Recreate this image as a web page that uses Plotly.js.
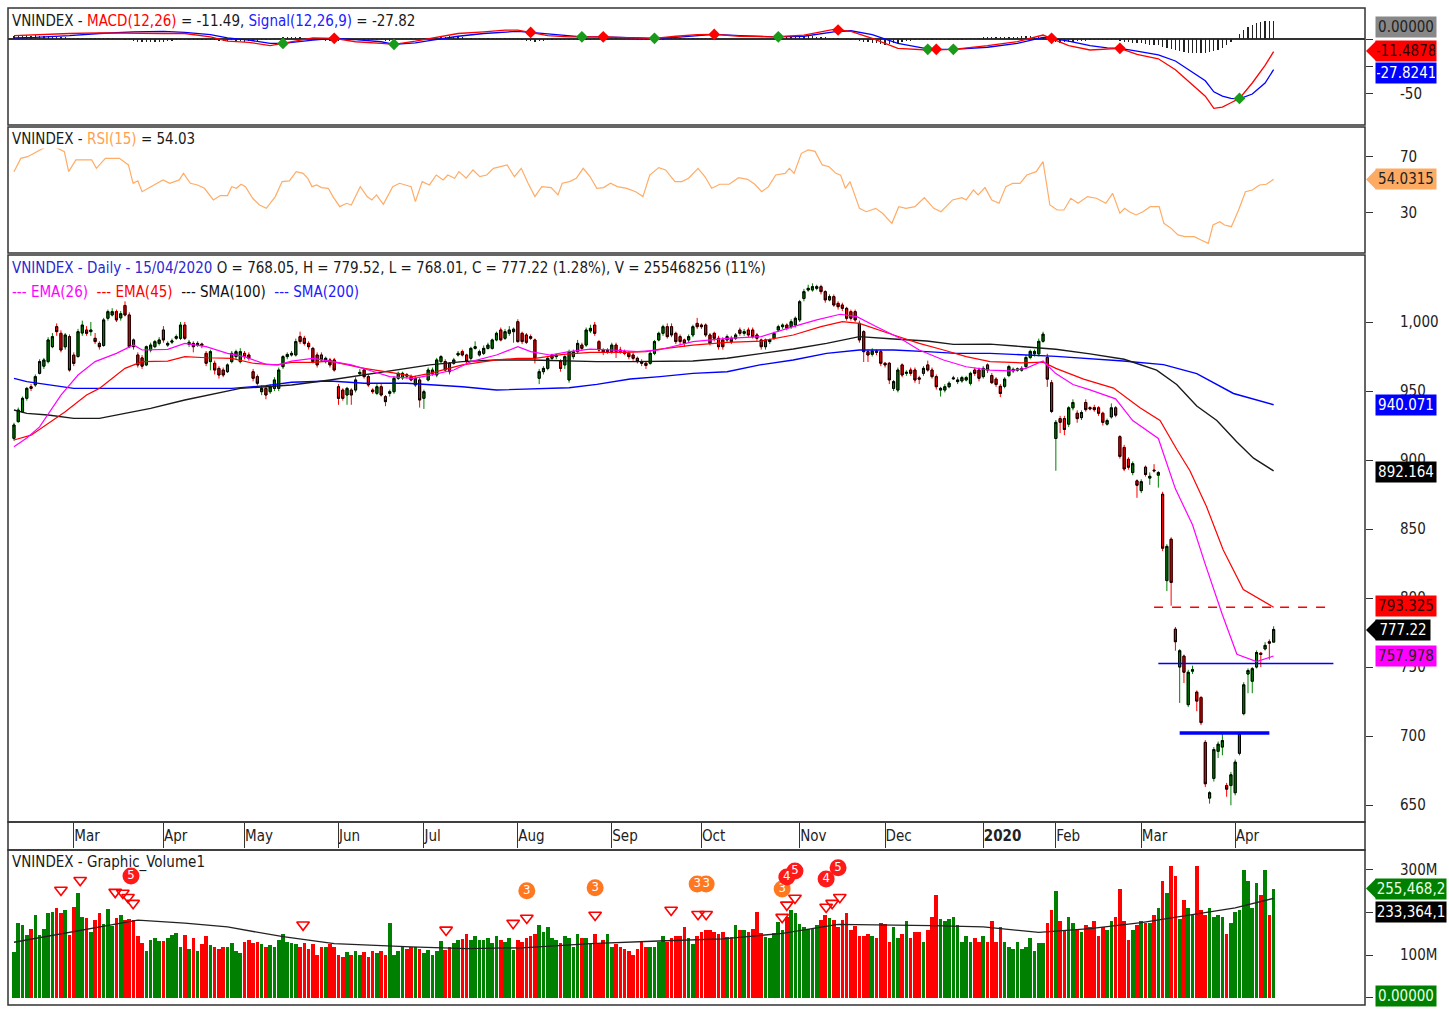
<!DOCTYPE html>
<html><head><meta charset="utf-8">
<script src="https://cdn.plot.ly/plotly-3.0.1.min.js"></script>
<style>html,body{margin:0;padding:0;background:#fff}#chart{width:1449px;height:1009px}</style>
</head><body><div id="chart"></div>
<script>
// ---------------- DATA ----------------
const monthIdx = [14, 35, 54, 76, 96, 118, 140, 161, 184, 204, 227, 244, 264, 286];
const monthLabels = ['Mar','Apr','May','Jun','Jul','Aug','Sep','Oct','Nov','Dec','<b>2020</b>','Feb','Mar','Apr'];

const openP = [
915.7,927.8,935,944.7,953.1,954.4,962.8,968,971.3,982.1,
996.6,991.8,982,989.4,976,975,992,994.2,993,988.2,
984.5,983,1002.7,1005.1,1007.5,1003,1012,1005.1,987,976.1,
974,968.9,979.7,982.1,984.5,994.2,983.3,985.4,988.2,988.2,
997.8,983.8,984.5,983.3,984,977.3,971.3,970.1,966.4,965.2,
964,971.3,974.9,971.3,977.3,976.1,964,960.4,949.5,951.9,
949.5,951.9,951.9,967.6,974.9,976.1,976.1,989.4,988.2,984.5,
980.9,976.1,976.1,971.3,972.5,972.5,953.1,950.7,947.1,950.7,
950.7,962.5,965.2,960.4,950.7,948.3,953.1,945.9,948.3,949.5,
959.2,959.5,961.8,960.4,954.4,958,944.7,958,962.8,961.6,
971.3,971.3,970.1,970.1,976.1,978.5,976.1,973.7,980.9,976.1,
977.3,980.9,980.9,987,994.2,988.2,991.8,993,1000.2,991.8,
990.6,989.4,987,959.2,964,966.4,973.7,974.9,971.3,968.9,
958,974.9,978.5,983.3,983.3,993.5,997.8,985.8,979.7,978.5,
978.5,983.3,979.7,978.5,977.3,976.1,973.7,971.3,970.1,970.1,
977.3,987,991.8,996.6,996.6,991.8,989.4,987,987,990.6,
999,997.8,997.8,990.6,991.8,988.2,987,987,988.2,988.2,
994.2,991.8,994.2,994.2,990.6,987,982.1,985.8,988.2,994.2,
996.6,997.8,996.6,997.8,1001.5,1017,1023.2,1023.2,1024.4,1025.6,
1022,1016,1018.4,1013.5,1012.3,1009.9,1007.5,1007.5,999,993,
978.5,976.6,979,978.5,970.1,970.1,951.9,950.7,968.9,962.8,
965.2,965.2,959.5,962.8,968.9,965.2,960.4,950.7,950.7,953.1,
958.8,956.8,957.3,958,955.6,965.2,965.2,960.4,968.9,961.2,
958.6,953.4,953.4,961.2,964.6,965.1,965.1,967.7,974.3,976.9,
976.9,986,974.3,956,915.6,930,930,926,937.8,933.9,
930.7,941.7,938,938,937.8,933.9,926,931.2,937.8,916.9,
909.1,900.5,890.9,884.9,877.8,894.8,886.9,892.7,889,875.2,
812.6,842.6,777.4,750,757.9,722.7,747,731.8,727.9,695.4,
655,669.3,688.9,692,664.1,664.1,658.9,687.5,716.2,744.9,
739.7,750,760,763.1,768.3,768.05];

const highP = [
927,938,946,953,955,962,973,974,989,992,
999,994,992,991,978,995,1001,997,1000,992,
986,1003,1009,1010,1009,1008,1015,1007,988,978,
976,983,985,987,989,997,986,988,991,1000,
1000,987,986,986,985,979,980,972,968,967,
970,979,980,981,979,978,966,962,954,953,
955,960,967,976,978,979,988,993,990,986,
982,978,978,975,974,974,955,952,953,952,
960,966,967,962,952,955,955,947,951,961,
964,964,963,962,961,960,951,967,967,974,
976,973,971,974,979,980,977,982,986,980,
983,985,988,993,996,995,997,996,1002,993,
992,991,988,966,968,975,977,977,973,976,
980,980,987,985,996,998,1000,987,981,981,
985,985,982,980,979,978,975,973,971,979,
987,993,998,999,999,993,991,988,991,998,
1003,999,999,992,993,990,989,991,990,992,
996,995,996,996,992,988,988,988,993,998,
999,999,1002,1004,1016,1024,1027,1028,1027,1027,
1023,1020,1020,1015,1014,1011,1009,1009,1001,994,
980,981,980,980,971,971,958,967,970,965,
967,967,961,968,972,967,962,953,955,957,
961,960,961,961,964,967,967,968,970,963,
960,955,960,969,967,967,968,976,980,980,
988,993,977,958,929,932,932,939,944,936,
936,944,939,940,939,935,930,941,939,918,
911,902,899,886,886,896,891,897,892,877,
839,844,779,763,759,748,751,733,729,697,
660,692,696,702,666,674,683,703,739,749,
750,762,761,768,770,779.52];

const lowP = [
914,927,934,943,950,953,962,966,970,981,
990,978,980,964,968,974,990,990,990,984,
980,982,1001,1004,1000,1001,1004,981,980,967,
966,968,978,981,983,985,982,984,987,987,
987,982,978,982,981,968,965,962,959,960,
963,970,973,970,973,972,957,954,947,944,
948,950,950,966,973,975,975,984,983,980,
970,967,971,970,967,964,940,943,940,940,
949,961,959,953,948,947,946,939,946,948,
958,958,959,957,953,938,937,957,961,960,
970,964,962,969,975,975,970,972,980,975,
976,980,980,986,986,987,990,985,985,984,
984,987,970,955,962,965,972,973,964,966,
956,973,977,979,982,992,990,978,976,977,
977,974,977,976,973,972,970,968,966,969,
976,986,990,988,989,984,983,982,985,989,
995,995,989,983,986,980,980,985,984,987,
990,990,989,988,986,980,980,984,987,993,
995,994,995,996,1000,1015,1022,1022,1023,1020,
1014,1015,1011,1009,1008,1001,1001,1000,985,971,
971,975,976,968,967,955,950,949,960,961,
961,956,955,961,964,959,951,946,949,952,
958,955,956,957,954,961,957,959,963,955,
953,945.6,952,960,963,964,964,966,973,975,
975,985,953,934,892.2,919.5,918,924,936,927,
929,935,936,935,932,925,925,930,931,901,
892,893,889,872.6,876,888,882,891,880,834,
805,794.4,761.8,724,738.4,721,745,718,708,663,
651,667,684,686,656,649.8,657,686,715,731,
731,749,750,762,755.3,768.01];

const closeP = [
925.4,936.2,944.7,951.9,951.9,960.4,971.3,972.5,987,989.4,
993,979.7,990.6,965.2,970,993,997.8,991.8,994.2,985.8,
982.1,1001.5,1007.5,1007.5,1001.5,1006,1005.1,982.1,982.1,968.9,
968,982.1,983.3,985.8,987,987,984.5,986.3,989.4,997.8,
988.2,985.3,982.1,984.5,983,970.1,978.5,965.2,961.6,961.6,
968.9,977.3,978.5,978.5,974.9,973.7,959.2,955.6,951.9,947.1,
953.1,958,965.2,974.9,976.5,977.3,985.8,985.8,984.5,982.1,
971.3,968.9,972.5,973.7,968.9,965.2,944.7,944.7,951.9,947.1,
958,963.5,960.4,954.4,949.5,953.1,947.1,942.3,949.5,959.2,
962.8,962.8,960.8,958,959.2,943.5,949.5,965.2,965.2,972.5,
974.9,965.2,964,972.5,977.3,976.1,971.3,980.9,982.1,978.5,
980.9,983.3,987,991.8,987,993,994.2,994.8,985.8,985.8,
985.3,988.2,973.7,964,966.4,973.7,976.1,976.1,966.4,974.9,
978.5,978.5,984.5,980.9,994.2,995.4,991.8,979.7,978.2,979.7,
983.3,978.5,978.5,977.3,974.9,973.7,971.3,970.1,968.5,977.3,
985.8,991.8,996.6,989.4,990.6,985.8,985.8,984.5,989.4,996.6,
996.6,996.6,990.6,984.5,988.2,982.1,982.1,989.4,985.8,990.6,
991.8,993,990.6,989.4,988.2,982.1,987,987,991.8,996.6,
997.8,995.4,1000.2,1002.7,1014.7,1022,1024.4,1025.6,1025.6,1022,
1016,1018.4,1012.3,1011.1,1009.9,1002.7,1002.7,1001.5,987,978.5,
976.1,979,978,970.1,968.9,958,956.8,965.2,961.6,963.5,
962.8,958,958.6,966.4,965.2,960.4,953.1,951.9,953.1,955.6,
959.4,958,959.7,959.7,962.8,962.8,959.2,966.4,965.2,956,
954.7,948.2,958.6,967.7,965.7,966,966.4,974.3,978.7,978.7,
986,991.2,958.6,935.2,927.3,927.3,922.1,937.8,941.7,930,
934.4,936.5,937,936.5,933.9,927.3,928.6,937.8,932.5,902.6,
893.5,894.8,897.4,881.7,884.3,889.5,888.2,892.2,890.9,836.1,
837.4,811.3,768.3,761.8,746.2,746.2,748,725.3,709.7,665.4,
658.9,690.2,694.1,696.7,661.5,671.9,681.1,701.9,737.1,747.5,
748.8,760.5,759.2,765.7,767.3,777.22];

// volume in millions of shares
const volumeM = [
107,175,170,148,162,195,148,162,198,
200,210,198,205,148,212,245,190,186,155,
182,198,172,208,168,188,195,182,185,182,145,
128,110,135,140,133,132,140,146,151,120,148,115,140,110,125,145,123,118,115,120,118,128,110,
105,130,135,128,130,127,120,123,120,135,150,
130,128,125,120,128,115,125,100,120,118,125,
118,100,95,108,100,110,100,108,95,110,105,
110,100,175,100,110,120,115,118,118,115,105,
112,100,110,132,112,118,128,135,138,150,135,
145,135,135,140,128,145,135,130,140,112,135,
130,140,145,150,170,155,165,140,135,128,145,
140,120,150,140,140,125,150,125,135,150,120,
125,120,115,110,100,115,130,120,118,120,130,
145,130,140,145,145,165,140,125,145,155,160,158,155,150,
155,143,143,170,158,158,155,162,202,151,
143,139,151,178,158,190,205,198,174,166,162,
162,170,182,194,186,182,166,182,198,160,168,
145,145,150,145,140,175,172,130,165,140,150,
180,140,155,155,130,160,190,240,185,180,185,
190,170,130,145,130,140,130,145,130,180,130,
165,130,120,115,130,115,120,140,110,128,128,
175,205,250,180,160,190,175,160,155,170,165,
180,145,165,160,180,190,255,180,135,160,170,
180,175,175,195,210,275,245,310,285,185,230,
210,195,310,205,195,210,190,195,190,150,175,
200,205,300,275,210,270,240,300,195,255.47];

const volMaX = [0, 29, 40, 50, 63, 75, 93, 106, 119, 135, 151, 166, 180, 193, 215, 227, 240, 252, 264, 275, 286, 295];
const volMaV = [130, 182, 175, 166, 143, 127, 119, 115, 117, 127, 133, 138, 151, 172, 169, 166, 153, 162, 176, 194, 211, 233.36];

const ema26X = [0,3,6,9,11,15,19,24,28,30,36,40,45,50,54,59,62,65,70,74,79,83,88,93.5,97,103,107,113,118,121,125.5,130,135,140,146,151,159,167,175,182.5,188,193.5,197.4,202,207.5,212,217.7,223,228.6,233,237,241,244,248,252,258,262,268,272,276,279,283,286.4,291,295];
const ema26V = [909.6,916,924,938,947,961.6,971.3,977.3,983.3,979.7,980.2,984.5,982.1,977.3,974.9,969.3,968.9,971.7,973.7,971.7,968.9,965.2,960.4,959.2,961.1,965.2,971.3,976.1,982.1,978.5,976.1,978.5,980.4,979.7,978.5,979.7,985.8,988.2,989.4,996.6,1001.5,1005.6,1003.9,996.6,988.2,979.7,972.5,967.6,965.2,964.6,966.4,971.7,962.6,954.7,950.8,944.3,928.6,915.6,879.1,853.1,824.4,787.9,759.2,754,757.98];

const ema45X = [0,4,12,17,20,26,30,36,40,45,51,56,61.5,65,70,74,82,89.6,93.5,97.4,105,113,118,122,128.6,135,143,148,151.3,159,167,175,182.5,189,194,198,206,212,217.7,223,228.6,236,241,244,250.5,257.5,263.7,268.4,272.3,275.4,279.3,283.2,287.9,295];
const ema45V = [914.5,918,935,947.1,951.9,966.4,971.3,971.7,974.9,974.1,973.7,970.1,968.9,970.8,970.8,971.7,966.4,962.8,960.4,962.8,968.9,972.5,973.7,973.7,976.6,978,978,978.5,980.4,983.3,985.3,986.2,990.6,996.6,1000.2,999,990.6,984.5,979.7,974.9,971.3,970.4,970.9,966.4,958.6,952.1,937.8,928.6,907.8,892.2,866.1,834.8,806.1,793.33];

const sma100X = [0,3,8,14,20,26,32,40,47.5,53,59,65,74,82,89.6,97.4,105,113,121,128.6,136.5,144,151.3,159,167,175,182.5,190.3,196.6,198,206,213.8,220,228.6,236.4,244,252,260,267.6,272.3,277,281.7,286.4,290.3,295];
const sma100V = [936.2,933.8,932.6,930.2,930.2,933.8,937.4,943.5,948.3,951.9,953.1,954.4,958,961.6,965.2,968.9,971.3,972.5,972.5,971.7,971.3,971.3,971.3,971.7,973.7,977.3,980.4,984.5,988.2,989.4,987.7,986.2,983.8,984,982.1,980.3,976.9,973,965.1,954.7,939.1,928.6,913,901.3,892.16];

const sma200X = [0,3,14,31,51,59,65,74,82,92,105,113,121.6,130,136.5,144.3,151.3,159,167,174.7,182.5,190.3,198,206,213.8,220.6,228.6,244,259.8,269.2,277,285.6,295];
const sma200V = [959.2,956.8,951.9,951.9,951.9,953.9,956.3,957.2,955.6,955.6,953.1,950.7,951.4,952.4,954.8,958.7,960.4,962.8,964,968.9,972.5,977.3,979.7,979.7,978.5,977.3,977.3,975.1,971.7,969.1,962.6,948.2,940.07];

const macdX = [0,5,13,20,28,35,40,46,50,55,60,63,70,75,80,86,89,94,98,104,110,115,118,121,125,130,133,138,145,150,155,160,164,170,178,185,192,196,201,207,214,216,220,228,235,241,243,247,252,256,259,263,268,272,276,279,281,283,285,287,290,293,295];
const macdV = [3,4,5,5.5,5,5,5,2,-2,-3,-6,-4,1,0.6,-2.5,-4,-4.8,-2,1,5,6.5,8,8,6,3,2,2,2,1,0.6,2.5,4,4.2,2.5,2,3.5,8.8,7,0.6,-8.5,-10,-10,-9.4,-6,-2.4,3.6,0.6,-6,-10,-9.5,-8.5,-14,-18,-28,-42,-52,-63,-62,-58,-54,-40,-24,-11.49];
const signalV = [1,1.5,3,5,6.5,7,6,4,1,-1,-4,-4,-1,0.6,-0.5,-2.5,-4.8,-3.5,-1,2.5,5,6.5,7,6,4.5,2.5,2,2,1.5,0.6,1.5,3,4.2,3,2,2.5,6.5,7.5,4,-4,-9,-9.4,-9.4,-7.5,-4,1.5,0.6,-2,-6,-8,-8.5,-11,-14.5,-20,-30,-38,-48,-52,-54,-54.5,-50,-40,-27.82];
const macdHist = [
3,3,4,4,3,4,3,3,3,2,2,2,2,1,
1,1,0.5,0.5,0.5,0.5,0.5,0.5,0.5,0.5,0,0,-0.5,-1,
-2,-2.5,-3,-3,-3,-2.5,-3,-2.5,-2,-1.5,-1,
-0.5,-0.5,-0.5,-0.5,-0.5,-0.5,-0.5,-0.5,
-1,-1.5,-2,-1.5,-1,
-2,-2,-2.5,-2,-1.5,-1.5,-1,-1,-0.5,
0.5,1,1.5,2,2,2,1.5,1,0.5,
0,-0.5,-1,-1.5,-2,-2,-1.5,-1,
-0.5,-0.5,-0.5,-0.5,-0.5,-0.5,-0.5,-0.5,
-1,-1.5,-1.5,-1,0,0.5,0.5,1,1,0.5,0.5,0.5,
1,1.5,2,2,2.5,2,2,1.5,1,
0.5,0.5,0.5,0.5,0.5,0.5,0.5,0.5,0.5,0.5,0.5,0.5,
-1,-1.5,-2,-2.5,-2,-1.5,-1,-0.5,
-0.5,-0.5,-0.5,-0.5,-0.5,-0.5,-0.5,-0.5,-0.5,
0.5,0.5,0.5,0.5,0.5,0.5,0.5,0.5,0.5,0.5,
-0.5,-0.5,-0.5,-0.5,-0.5,-0.5,-0.5,
1,1,1,1,1,1,1,1,
0.5,0.5,0.5,0.5,
0.3,0.3,0.3,0.3,0.3,0.3,0.3,0.3,0.3,0.3,0.3,0.3,0.3,0.3,
1,1.5,2,2,2.5,2.5,3,3,2.5,2,2,1.5,1,
0.5,0.5,0,-0.5,-0.5,-1,
-2,-2.5,-3,-3.5,-4,-4.5,-5,-4.5,-4,-3.5,-3,-2,-1.5,
-0.5,-0.5,-0.5,-0.5,-0.5,-0.5,-0.5,-0.5,-0.5,-0.5,-0.5,-0.5,-0.5,
0.5,1,1,1.5,1.5,1.5,2,2,1.5,1.5,2,
2,2.5,3,2.5,2,1.5,
0.5,-1,-2,-3,-3.5,-3,-3,-2.5,-2,-2,-1.5,
-1,-1,-1,-0.5,-0.5,-1,-1,
-2,-2.5,-3,-3.5,-4,-4,-4.5,-5,-5,-5,
-7,-8,-9,-10,-11,-12,-12.5,-13,-13,-13,-12.5,-12,-11,-10,-8,
-5,-3,0,
5,8,11,13,14.5,15.5,16,16.3,16.33];

const macdBuyX = [63, 89, 133, 150, 179, 214, 220, 287];
const macdBuyV = [-4, -4.8, 2, 0.6, 2, -9.4, -9.4, -54];
const macdSellX = [75, 121, 138, 164, 193, 216, 243, 259];
const macdSellV = [0.6, 6, 2, 4.2, 8.2, -9.4, 0.6, -8.5];

const rsiX = [0,1.6,3.2,5.3,8.5,11.8,12.8,14.5,16.1,18.2,19.3,21.4,24.7,26.8,27.9,29,30,32.2,33.8,34.9,36.5,38.7,39.7,41.3,43,44.6,46.7,48.3,50,51,52.1,53.2,54.2,55.9,57.5,59.1,61.2,62.8,64.5,66.1,67.7,68.8,69.8,70.9,72,73.6,74.7,76.3,77.9,79,81.1,82.7,83.8,84.9,86.5,88.7,90.3,91.9,93,94,95.6,97.3,98.9,100.5,101.6,103.2,104.2,105.9,107.5,109.1,110.7,112.3,114,115.5,117.2,118.8,120.4,122,123.6,125.8,127.4,128.4,130.1,131.7,133.3,134.9,136.5,138.1,139.7,141.3,143.5,145.6,147.3,148.9,151,152.6,154.8,156.4,158,160.2,161.8,163.4,165.3,167.5,169.7,171.8,173.5,175.1,176.7,178.4,180.6,181.6,182.7,184.4,186,187.6,189.3,190.9,192.5,193.6,194.7,195.8,198,199.6,201.8,203.4,205.6,207.2,208.9,211,213.2,215.4,217.1,219.8,222,223,224.7,225.8,227.4,229,230.7,232.3,233.9,235.6,237.2,239.4,241,242.6,244.3,245.9,247.5,249.2,251.4,253.5,255.7,257.3,259,260.1,261.2,262.8,264.4,266.1,268.2,269.3,271,272.6,274.2,276.4,278,279.7,280.8,282.4,283.5,285.1,286.8,288.4,290,291.7,293.3,295];
const rsiV = [59.5,69,70.2,73.8,79,73.8,59.5,67.9,67.9,67.9,61.9,69,69,64.3,51.2,53,45.2,48.8,51.2,53.6,51.2,53.6,58.3,51.2,50,47.6,39.3,42.4,42.4,48.8,47.6,50.5,48.8,40.5,35.7,33.3,41.7,52.4,52.9,59.5,58.3,54.8,48.8,50,48.1,47.6,41.7,34.5,36.9,35.7,48.8,41.7,39.3,42.9,36.2,48.8,51.2,50,48.8,38.1,52.4,50,57.1,53.6,57.1,54.8,59.5,54.8,60.7,56,57.1,61.9,63.1,64.3,55.9,61.9,51.2,41.7,48.8,48.1,42.9,51.2,52.4,54.8,61.9,56,47.6,48.1,51.2,48.8,47.6,45.2,41.7,57.1,62.4,60.7,52.4,52.4,54.8,61.9,56,47.6,50.5,50.5,55.2,54,50.5,45.2,48.8,57.1,58.3,61.9,58.3,72.6,75,74,64.3,63,58.3,57,47.6,52.4,33.3,30.9,33.3,29.8,22.6,34.5,33.3,34.5,40.9,33.3,30.9,39.3,40.9,39.3,46.4,42.9,48.1,39.3,36.9,48.8,51.2,51.2,57.1,59.5,66.7,35.7,32.1,32.1,40.5,37,41.7,40.5,36.9,44,29.8,33.3,30.9,28.6,30.9,34.5,34.5,22.6,19,14.3,13.1,13.1,10.7,8.3,21.4,23.8,21.4,20.2,32.1,45.2,46.4,50,50.5,54.03];

// volume signal marks
const triX = [11, 15.5, 23.7, 25.5, 26.7, 27.9, 67.7, 101.2, 116.9, 120.1, 136.1, 153.9, 160.2, 162.1, 179.9, 181, 182.9, 190.2, 191.6, 193.4];
const triV = [253, 276, 248, 246, 236, 222, 171, 159, 175, 187, 194, 206, 196, 196, 189, 218, 234, 213, 222, 236];
const orangeX = [120.1, 136.1, 160, 162.1, 179.9];
const orangeV = [251, 258, 267, 267, 255];
const orangeTxt = ['3','3','3','3','3'];
const redX = [27.4, 181, 182.9, 190.2, 193];
const redV = [286, 283.5, 297.6, 279, 305];
const redTxt = ['5','4','5','4','5'];

const levelPrices = [793.325, 752.5, 702.2];
const levelFrom = [267, 268, 273];
const levelTo = [308, 309, 294];

// ---------------- LAYOUT HELPERS ----------------
const FONT = "'Liberation Sans Narrow','Arial Narrow','DejaVu Sans Condensed',sans-serif";
const W = 1449, H = 1009, ML = 8, MR = 84, MT = 8, MB = 4;
const PW = W - ML - MR, PH = H - MT - MB;
const xp = px => (px - ML) / PW;
const yp = py => (H - MB - py) / PH;
const XR = [-1.4, 316.4];
const idx = closeP.map((_, i) => i);
const UP = '#008000', DN = '#ff0000';

const bodyHigh = openP.map((o, i) => Math.max(o, closeP[i]));
const bodyLow = openP.map((o, i) => Math.min(o, closeP[i]));
const volColors = closeP.map((c, i) => c >= openP[i] ? UP : DN);

const traces = [
  // MACD
  {type:'bar', x: idx, y: macdHist, xaxis:'x', yaxis:'y', width:0.3, marker:{color:'#222'}, hoverinfo:'skip'},
  {type:'scatter', mode:'lines', x: macdX, y: signalV, xaxis:'x', yaxis:'y', line:{color:'#0000ff', width:1.3}, hoverinfo:'skip'},
  {type:'scatter', mode:'lines', x: macdX, y: macdV, xaxis:'x', yaxis:'y', line:{color:'#ff0000', width:1.3}, hoverinfo:'skip'},
  {type:'scatter', mode:'markers', x: macdBuyX, y: macdBuyV, xaxis:'x', yaxis:'y', marker:{symbol:'diamond', size:9, color:'#1a9a1a'}, hoverinfo:'skip'},
  {type:'scatter', mode:'markers', x: macdSellX, y: macdSellV, xaxis:'x', yaxis:'y', marker:{symbol:'diamond', size:9, color:'#ff0000'}, hoverinfo:'skip'},
  // RSI
  {type:'scatter', mode:'lines', x: rsiX, y: rsiV, xaxis:'x2', yaxis:'y2', line:{color:'#ffac66', width:1.2}, hoverinfo:'skip'},
  // MAs
  {type:'scatter', mode:'lines', x: sma200X, y: sma200V, xaxis:'x3', yaxis:'y3', line:{color:'#0000ff', width:1.4}, hoverinfo:'skip'},
  {type:'scatter', mode:'lines', x: sma100X, y: sma100V, xaxis:'x3', yaxis:'y3', line:{color:'#1a1a1a', width:1.4}, hoverinfo:'skip'},
  {type:'scatter', mode:'lines', x: ema45X, y: ema45V, xaxis:'x3', yaxis:'y3', line:{color:'#ff0000', width:1.2}, hoverinfo:'skip'},
  {type:'scatter', mode:'lines', x: ema26X, y: ema26V, xaxis:'x3', yaxis:'y3', line:{color:'#ff00ff', width:1.2}, hoverinfo:'skip'},
  // candles: wicks (coloured) then bodies (black outline)
  {type:'candlestick', x: idx, open: openP, high: highP, low: lowP, close: closeP, xaxis:'x3', yaxis:'y3',
   increasing:{line:{color:UP, width:1}, fillcolor:UP}, decreasing:{line:{color:DN, width:1}, fillcolor:DN},
   whiskerwidth:0, hoverinfo:'skip', showlegend:false},
  {type:'candlestick', x: idx, open: openP, high: bodyHigh, low: bodyLow, close: closeP, xaxis:'x3', yaxis:'y3',
   increasing:{line:{color:'#000', width:1}, fillcolor:UP}, decreasing:{line:{color:'#000', width:1}, fillcolor:DN},
   whiskerwidth:0, hoverinfo:'skip', showlegend:false},
  // Volume
  {type:'bar', x: idx, y: volumeM, xaxis:'x4', yaxis:'y4', width:0.85, marker:{color: volColors, line:{width:0}}, hoverinfo:'skip'},
  {type:'scatter', mode:'lines', x: volMaX, y: volMaV, xaxis:'x4', yaxis:'y4', line:{color:'#222', width:1.3}, hoverinfo:'skip'},
  {type:'scatter', mode:'markers', x: triX, y: triV, xaxis:'x4', yaxis:'y4', cliponaxis:false,
   marker:{symbol:'triangle-down-open', size:11, color:'#ff0000', line:{width:1.6, color:'#ff0000'}}, hoverinfo:'skip'},
  {type:'scatter', mode:'markers+text', x: orangeX, y: orangeV, text: orangeTxt, xaxis:'x4', yaxis:'y4', cliponaxis:false,
   textposition:'middle center', textfont:{family:FONT, size:13, color:'#fff'},
   marker:{symbol:'circle', size:17, color:'#ff7820'}, hoverinfo:'skip'},
  {type:'scatter', mode:'markers+text', x: redX, y: redV, text: redTxt, xaxis:'x4', yaxis:'y4', cliponaxis:false,
   textposition:'middle center', textfont:{family:FONT, size:13, color:'#fff'},
   marker:{symbol:'circle', size:17, color:'#ff1a1a'}, hoverinfo:'skip'},
  {type:'scatter', mode:'markers', x:[288], y:[352], xaxis:'x4', yaxis:'y4', cliponaxis:false,
   marker:{symbol:'asterisk-open', size:14, color:'#1a9a1a', line:{width:2, color:'#1a9a1a'}}, hoverinfo:'skip'}
];

const axisFont = {family: FONT, size: 15, color: '#222'};
const baseX = {range: XR, showgrid:false, zeroline:false, showticklabels:false, ticks:'', showline:false, fixedrange:true};
const baseY = {side:'right', showgrid:false, ticks:'outside', ticklen:7, tickcolor:'#333', tickwidth:1,
  tickfont: axisFont, showline:false, fixedrange:true, ticklabelstandoff: 24};

const layout = {
  width: W, height: H, margin:{l:ML, r:MR, t:MT, b:MB}, paper_bgcolor:'#fff', plot_bgcolor:'#fff',
  showlegend:false, hovermode:false, bargap:0,
  xaxis: Object.assign({}, baseX, {anchor:'y'}),
  xaxis2: Object.assign({}, baseX, {anchor:'y2'}),
  xaxis3: Object.assign({}, baseX, {anchor:'y3', showticklabels:true, tickvals: monthIdx, ticktext: monthLabels,
    ticks:'outside', ticklen:25, tickcolor:'#333', tickwidth:1, ticklabelposition:'outside right',
    ticklabelstandoff:0, tickfont:{family:FONT, size:15, color:'#222'}, rangeslider:{visible:false}}),
  xaxis4: Object.assign({}, baseX, {anchor:'y4'}),
  yaxis: Object.assign({}, baseY, {domain:[yp(125), yp(8)], anchor:'x', range:[-78.2, 28.2],
    tickvals:[0,-25,-50], ticktext:['','','-50'], zeroline:true, zerolinecolor:'#333', zerolinewidth:1.2}),
  yaxis2: Object.assign({}, baseY, {domain:[yp(253), yp(127)], anchor:'x2', range:[1.4, 91.4], tickvals:[30,70], zeroline:false}),
  yaxis3: Object.assign({}, baseY, {domain:[yp(822), yp(255)], anchor:'x3', range:[637.7, 1048.55],
    tickvals:[650,700,750,800,850,900,950,1000], ticktext:['650','700','750','800','850','900','950','1,000'], zeroline:false}),
  yaxis4: Object.assign({}, baseY, {domain:[yp(1005), yp(850)], anchor:'x4', range:[-17.6, 347],
    tickvals:[0,100,200,300], ticktext:['','100M','','300M'], zeroline:false}),
  shapes: [],
  annotations: []
};

// panel frames
[[8,125],[127,253],[255,822],[822,850],[850,1005]].forEach(([a,b]) => {
  layout.shapes.push({type:'rect', xref:'paper', yref:'paper', x0:0, x1:1, y0:yp(b), y1:yp(a),
    line:{color:'#333', width:1.5}, fillcolor:'rgba(0,0,0,0)', layer:'above'});
});
// price level lines
const levelStyles = [{color:'#ff0000', width:1.6, dash:'dash'}, {color:'#0000ff', width:1.6, dash:'solid'}, {color:'#0000ff', width:3.5, dash:'solid'}];
levelPrices.forEach((p, k) => {
  layout.shapes.push({type:'line', xref:'x3', yref:'y3', x0:levelFrom[k], x1:levelTo[k], y0:p, y1:p, line:levelStyles[k], layer:'above'});
});

// titles
function title(px, py, text, bg) {
  layout.annotations.push({xref:'paper', yref:'paper', x: xp(px), y: yp(py), xanchor:'left', yanchor:'middle',
    text, showarrow:false, font:{family:FONT, size:15, color:'#1a1a1a'}, bgcolor: bg || 'rgba(0,0,0,0)', borderpad:0});
}
title(11, 21, "VNINDEX - <span style='color:#ff0000'>MACD(12,26)</span> = -11.49, <span style='color:#2020ff'>Signal(12,26,9)</span> = -27.82");
title(11, 139, "VNINDEX - <span style='color:#ffa050'>RSI(15)</span> = 54.03", '#ffffff');
title(11, 268, "<span style='color:#2a2ad0'>VNINDEX - Daily - 15/04/2020</span> O = 768.05, H = 779.52, L = 768.01, C = 777.22 (1.28%), V = 255468256 (11%)");
title(11, 292, "<span style='color:#ff00ff'>--- EMA(26)</span>  <span style='color:#ff0000'>--- EMA(45)</span>  <span style='color:#111'>--- SMA(100)</span>  <span style='color:#2020ff'>--- SMA(200)</span>");
title(11, 862, "VNINDEX - Graphic_Volume1");

// value boxes on the right axis
function box(text, py, bg, fc, w) {
  layout.annotations.push({xref:'paper', yref:'paper', x: xp(1375), y: yp(py), xanchor:'left', yanchor:'middle',
    text, showarrow:false, bgcolor:bg, font:{family:FONT, size:15, color:fc}, width: w || 58, height:18, borderpad:1, align:'center'});
}
function pointer(py, color) {
  const x1 = xp(1366), x2 = xp(1376), ya = yp(py - 10), yb = yp(py + 10), ym = yp(py);
  layout.shapes.push({type:'path', xref:'paper', yref:'paper', path:`M ${x1},${ym} L ${x2},${ya} L ${x2},${yb} Z`,
    fillcolor:color, line:{width:0}, layer:'above'});
}
box('0.00000', 27, '#888888', '#222');
pointer(51, '#ff0000'); box('-11.4878', 51, '#ff0000', '#2a0000');
box('-27.8241', 73, '#0000ff', '#ffffff');
pointer(179.5, '#fdab62'); box('54.0315', 179.5, '#fdab62', '#222');
box('940.071', 405, '#0000ff', '#ffffff');
box('892.164', 471.5, '#000000', '#ffffff');
box('793.325', 606.5, '#ff0000', '#2a0000');
pointer(630, '#000000'); box('777.22', 630, '#000000', '#ffffff', 52);
box('757.978', 656, '#ff00ff', '#222');
pointer(888.5, '#008000'); box('255,468,2', 888.5, '#008000', '#e8ffe8', 68);
box('233,364,1', 912, '#000000', '#ffffff', 68);
box('0.00000', 996, '#008000', '#e8ffe8');

Plotly.newPlot('chart', traces, layout, {staticPlot:true, displayModeBar:false});
</script></body></html>
